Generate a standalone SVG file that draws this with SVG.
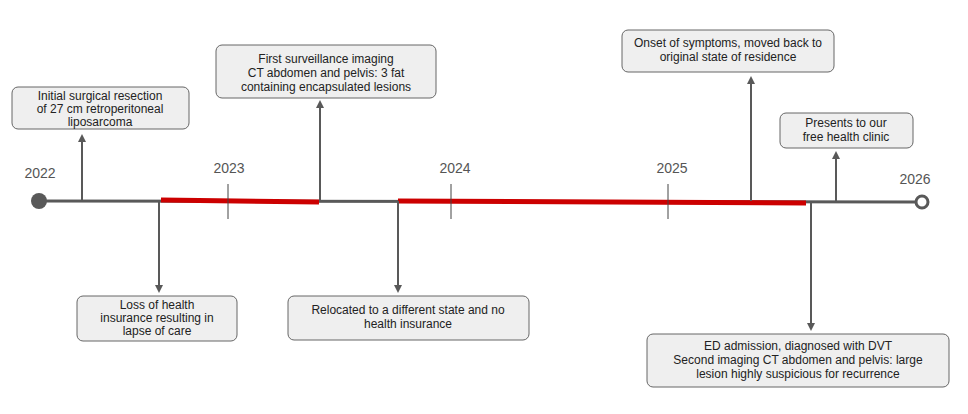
<svg xmlns="http://www.w3.org/2000/svg" width="968" height="414" viewBox="0 0 968 414">
<style>
.box{fill:#efefef;stroke:#666;stroke-width:1}
.t{font-family:"Liberation Sans",Arial,sans-serif;font-size:12px;fill:#222;text-anchor:middle}
.y{font-family:"Liberation Sans",Arial,sans-serif;font-size:14px;fill:#555;text-anchor:middle}
.ar{stroke:#595959;stroke-width:2;fill:none;marker-end:url(#ah)}
</style>
<defs><marker id="ah" markerWidth="8" markerHeight="8" refX="4" refY="4" orient="auto" markerUnits="userSpaceOnUse" viewBox="0 0 8 8"><path d="M0,0L8,4L0,8Z" fill="#595959"/></marker></defs>
<rect width="968" height="414" fill="#fff"/>
<g id="timeline">
<line x1="39" y1="201" x2="916" y2="202" stroke="#595959" stroke-width="3"/>
<line x1="161" y1="200" x2="319" y2="202" stroke="#cc0000" stroke-width="5"/>
<line x1="398" y1="201" x2="806" y2="203" stroke="#cc0000" stroke-width="5"/>
<circle cx="39" cy="201" r="8" fill="#595959"/>
<circle cx="922" cy="202" r="6" fill="#fff" stroke="#595959" stroke-width="3"/>
<g stroke="#444" stroke-width="1"><line x1="228" y1="184" x2="228" y2="219"/><line x1="451" y1="184" x2="451" y2="219"/><line x1="668" y1="184" x2="668" y2="219"/></g>
<text class="y" x="40" y="178">2022</text><text class="y" x="229" y="173">2023</text><text class="y" x="455" y="173">2024</text><text class="y" x="672" y="173">2025</text><text class="y" x="915" y="184">2026</text>
</g>
<g id="connectors">
<line class="ar" x1="82" y1="201" x2="82" y2="138"/>
<line class="ar" x1="320" y1="201" x2="320" y2="104"/>
<line class="ar" x1="751" y1="201" x2="751" y2="80"/>
<line class="ar" x1="836" y1="201" x2="836" y2="155"/>
<line class="ar" x1="159" y1="201" x2="159" y2="289"/>
<line class="ar" x1="398" y1="201" x2="398" y2="289"/>
<line class="ar" x1="811" y1="202" x2="811" y2="327"/>
</g>
<g id="n1"><rect class="box" x="12" y="87" width="177" height="42" rx="6"/><text class="t" x="100" y="100">Initial surgical resection</text><text class="t" x="100" y="113">of 27 cm retroperitoneal</text><text class="t" x="100" y="126">liposarcoma</text></g>
<g id="n2"><rect class="box" x="216" y="45" width="220" height="53" rx="6"/><text class="t" x="326" y="63">First surveillance imaging</text><text class="t" x="326" y="77">CT abdomen and pelvis: 3 fat</text><text class="t" x="326" y="91">containing encapsulated lesions</text></g>
<g id="n3"><rect class="box" x="622" y="30" width="212" height="42" rx="6"/><text class="t" x="728" y="47">Onset of symptoms, moved back to</text><text class="t" x="728" y="61">original state of residence</text></g>
<g id="n4"><rect class="box" x="780" y="113" width="133" height="35" rx="6"/><text class="t" x="846" y="127">Presents to our</text><text class="t" x="846" y="141">free health clinic</text></g>
<g id="n5"><rect class="box" x="77" y="296" width="160" height="45" rx="6"/><text class="t" x="157" y="309">Loss of health</text><text class="t" x="157" y="322">insurance resulting in</text><text class="t" x="157" y="335">lapse of care</text></g>
<g id="n6"><rect class="box" x="288" y="296" width="241" height="44" rx="6"/><text class="t" x="408" y="314">Relocated to a different state and no</text><text class="t" x="408" y="328">health insurance</text></g>
<g id="n7"><rect class="box" x="647" y="334" width="302" height="53" rx="6"/><text class="t" x="798" y="350">ED admission, diagnosed with DVT</text><text class="t" x="798" y="364">Second imaging CT abdomen and pelvis: large</text><text class="t" x="798" y="378">lesion highly suspicious for recurrence</text></g>
</svg>
